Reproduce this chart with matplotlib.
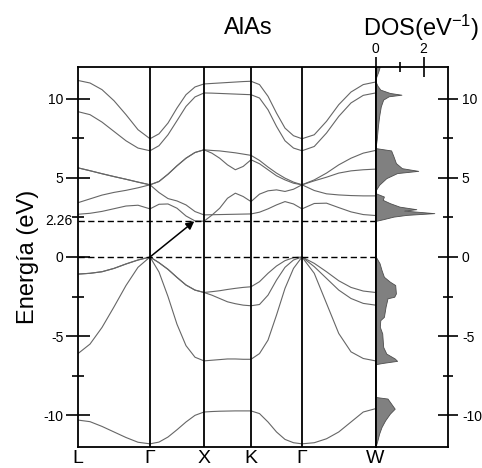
import numpy as np
import matplotlib.pyplot as plt
from matplotlib.ticker import FixedLocator
from matplotlib.transforms import blended_transform_factory

plt.rcParams['font.family'] = ['Liberation Sans', 'DejaVu Sans']
plt.rcParams['mathtext.fontset'] = 'custom'
plt.rcParams['mathtext.rm'] = 'Liberation Sans'
plt.rcParams['mathtext.default'] = 'regular'
plt.rcParams['axes.unicode_minus'] = False

# k-path: high symmetry points and their path length (arbitrary units)
kpoint_labels = ['L', 'Γ', 'X', 'K', 'Γ', 'W']
kpoint_pos = [0, 72, 126, 173, 224, 297.5]
pts_per_seg = 7          # samples per segment, end points shared

gap = 2.26               # indirect gap Γ -> X (eV)

# bands: L-Γ (7), Γ-X (6), X-K (6), K-Γ (6), Γ-W (6)
band_v4 = [-10.3, -10.4, -10.7, -11.05, -11.4, -11.7, -11.8,
           -11.69, -11.37, -10.91, -10.42, -10.0, -9.79,
           -9.76, -9.74, -9.73, -9.72, -9.72, -9.72,
           -9.89, -10.42, -11.05, -11.52, -11.73, -11.8,
           -11.73, -11.48, -11.05, -10.42, -9.79, -9.58]
band_v3 = [-6.1, -5.5, -4.45, -3.15, -1.8, -0.65, 0,
           -0.95, -2.5, -4.25, -5.6, -6.33, -6.56,
           -6.52, -6.48, -6.44, -6.44, -6.46, -6.46,
           -6.1, -5.25, -3.67, -1.98, -0.72, 0,
           -1.03, -2.93, -4.83, -5.99, -6.41, -6.56]
band_v2 = [-1.08, -1.03, -0.93, -0.72, -0.44, -0.19, 0,
           -0.36, -0.78, -1.29, -1.77, -2.09, -2.24,
           -2.41, -2.62, -2.83, -2.95, -3.04, -3.08,
           -3.0, -2.41, -1.46, -0.65, -0.19, 0,
           -0.61, -1.35, -2.09, -2.62, -2.93, -3.04]
band_v1 = [-1.08, -1.03, -0.93, -0.72, -0.44, -0.19, 0,
           -0.36, -0.78, -1.29, -1.77, -2.09, -2.24,
           -2.19, -2.13, -2.05, -1.98, -1.92, -1.88,
           -1.56, -1.03, -0.57, -0.23, -0.04, 0,
           -0.40, -0.93, -1.50, -1.92, -2.15, -2.24]
band_c1 = [2.70, 2.76, 2.88, 3.05, 3.22, 3.27, 3.04,
           3.33, 3.35, 3.08, 2.59, 2.28, 2.26,
           2.64, 3.08, 3.71, 4.03, 3.82, 3.50,
           3.97, 4.18, 4.24, 4.14, 4.28, 4.56,
           4.20, 3.99, 3.92, 3.88, 3.86, 3.86]
band_c2 = [3.43, 3.67, 3.91, 4.08, 4.21, 4.37, 4.56,
           4.07, 3.69, 3.54, 3.29, 2.87, 2.66,
           2.67, 2.68, 2.69, 2.70, 2.71, 2.72,
           2.83, 3.04, 3.29, 3.50, 3.35, 3.04,
           3.38, 3.40, 3.12, 2.85, 2.68, 2.62]
band_c3 = [5.63, 5.45, 5.26, 5.08, 4.91, 4.73, 4.56,
           4.77, 5.23, 5.76, 6.24, 6.60, 6.77,
           6.73, 6.70, 6.64, 6.58, 6.50, 6.42,
           6.10, 5.68, 5.30, 4.98, 4.73, 4.56,
           4.87, 5.30, 5.82, 6.24, 6.56, 6.73]
band_c4 = [5.63, 5.45, 5.26, 5.08, 4.91, 4.73, 4.56,
           4.77, 5.23, 5.76, 6.24, 6.60, 6.77,
           6.56, 6.24, 5.82, 5.51, 5.72, 6.14,
           5.89, 5.51, 5.13, 4.87, 4.66, 4.56,
           4.81, 5.04, 5.30, 5.44, 5.51, 5.55]
band_c5 = [9.18, 8.99, 8.52, 7.93, 7.34, 6.88, 6.71,
           7.03, 7.72, 8.61, 9.51, 10.11, 10.36,
           10.35, 10.33, 10.31, 10.29, 10.27, 10.25,
           10.04, 9.30, 8.25, 7.34, 6.88, 6.71,
           6.98, 7.83, 8.88, 9.73, 10.21, 10.36]
band_c6 = [11.15, 10.99, 10.57, 9.87, 8.99, 8.04, 7.47,
           7.78, 8.46, 9.41, 10.25, 10.74, 10.93,
           10.96, 10.99, 11.02, 11.05, 11.08, 11.10,
           10.89, 10.15, 9.09, 8.14, 7.66, 7.47,
           7.72, 8.57, 9.62, 10.42, 10.89, 11.05]
bands = [band_v4, band_v3, band_v2, band_v1,
         band_c1, band_c2, band_c3, band_c4, band_c5, band_c6]

# density of states (energy in eV, DOS in 1/eV)
dos_energy = [12.04, 11.73, 11.37, 11.10, 10.82, 10.57, 10.36, 10.25, 10.15,
              9.94, 9.51, 8.88, 8.25, 7.41, 6.88,
              6.73, 6.35, 5.93, 5.61, 5.44, 5.30, 4.98, 4.56, 4.24, 4.03,
              3.82, 3.61, 3.40, 3.18, 3.02, 2.93, 2.77, 2.66, 2.55, 2.38, 2.28,
              0.02, -0.08, -0.40, -0.82, -1.25, -1.56, -1.77, -2.30, -2.51,
              -2.61, -3.14, -3.78, -3.99, -4.41, -4.83, -5.68, -6.10, -6.41,
              -6.56, -6.69, -6.77,
              -8.84, -8.94, -9.26, -9.58, -9.89, -10.32, -10.74, -11.16,
              -11.58, -11.90]
dos_value = [0.18, 0.12, 0.03, 0.0, 0.08, 0.2, 0.6, 1.08, 0.55,
             0.32, 0.22, 0.15, 0.1, 0.05, 0.0,
             0.65, 0.75, 0.85, 1.1, 1.78, 0.9, 0.45, 0.15, 0.02, 0.0,
             0.35, 0.3, 0.6, 1.0, 1.7, 1.2, 2.45, 1.3, 0.75, 0.3, 0.0,
             0.0, 0.05, 0.17, 0.25, 0.35, 0.6, 0.82, 0.85, 0.78,
             0.5, 0.42, 0.35, 0.2, 0.18, 0.28, 0.32, 0.45, 0.8,
             0.9, 0.3, 0.0,
             0.0, 0.5, 0.65, 0.8, 0.6, 0.4, 0.25, 0.15,
             0.08, 0.02]

# k values along the path
k = [np.linspace(kpoint_pos[0], kpoint_pos[1], pts_per_seg)]
for a, b in zip(kpoint_pos[1:-1], kpoint_pos[2:]):
    k.append(np.linspace(a, b, pts_per_seg)[1:])
k = np.concatenate(k)

W, H = 482, 468
fig = plt.figure(figsize=(W / 100, H / 100), dpi=100)
ax = fig.add_axes([78 / W, 21 / H, 297.5 / W, 380 / H])
ax_dos = fig.add_axes([375.5 / W, 21 / H, 72.5 / W, 380 / H])

for b in bands:
    ax.plot(k, b, color='#666666', lw=0.8)
for x in kpoint_pos[1:-1]:
    ax.axvline(x, color='k', lw=1.3)
for e in (0, gap):
    ax.axhline(e, color='k', lw=1.0, dashes=(4.5, 2.5))

# indirect gap arrow
x_end = kpoint_pos[2] - 0.18 * (kpoint_pos[2] - kpoint_pos[1])
ax.annotate('', xy=(x_end, gap), xytext=(kpoint_pos[1], 0),
            arrowprops=dict(arrowstyle='-|>', color='k', lw=1.1,
                            mutation_scale=12, shrinkA=0, shrinkB=0))

ax.set_xlim(kpoint_pos[0], kpoint_pos[-1])
ax.set_ylim(-12, 12)
ax.set_xticks(kpoint_pos)
ax.set_xticklabels(kpoint_labels, fontsize=14)
ax.tick_params(axis='x', length=0, pad=2.5)
ax.set_yticks([-10, -5, 0, 5, 10])
ax.yaxis.set_minor_locator(FixedLocator([-7.5, -2.5, 2.5, 7.5]))
ax.tick_params(axis='y', which='major', direction='inout', length=17,
               width=1.2, labelsize=10, pad=2)
ax.tick_params(axis='y', which='minor', direction='inout', length=8, width=1.2)
trans = blended_transform_factory(ax.transAxes, ax.transData)
ax.text(-0.02, gap, '2.26', transform=trans, ha='right', va='center',
        fontsize=10)
for s in ax.spines.values():
    s.set_linewidth(1.3)

ax_dos.fill_betweenx(dos_energy, 0, dos_value, facecolor='#808080',
                     edgecolor='#4d4d4d', lw=0.6)
ax_dos.set_xlim(0, 3.02)
ax_dos.set_ylim(-12, 12)
ax_dos.xaxis.tick_top()
ax_dos.set_xticks([0, 2])
ax_dos.xaxis.set_minor_locator(FixedLocator([1]))
ax_dos.tick_params(axis='x', which='major', direction='inout', length=14,
                   width=1.2, labelsize=10, pad=1)
ax_dos.tick_params(axis='x', which='minor', direction='inout', length=7,
                   width=1.2)
ax_dos.yaxis.tick_right()
ax_dos.set_yticks([-10, -5, 0, 5, 10])
ax_dos.yaxis.set_minor_locator(FixedLocator([-7.5, -2.5, 2.5, 7.5]))
ax_dos.tick_params(axis='y', which='major', direction='inout', length=14,
                   width=1.2, labelsize=10, pad=3)
ax_dos.tick_params(axis='y', which='minor', direction='inout', length=7,
                   width=1.2)
for s in ax_dos.spines.values():
    s.set_linewidth(1.3)

fig.text(28 / W, 1 - 257 / H, 'Energía (eV)', rotation=90, ha='center',
         va='center', fontsize=17)
fig.text(248 / W, 1 - 28 / H, 'AlAs', ha='center', va='center', fontsize=17)
fig.text(421 / W, 1 - 28 / H, 'DOS(eV$^{-1}$)', ha='center', va='center',
         fontsize=17)

fig.savefig('out.png', dpi=100)
